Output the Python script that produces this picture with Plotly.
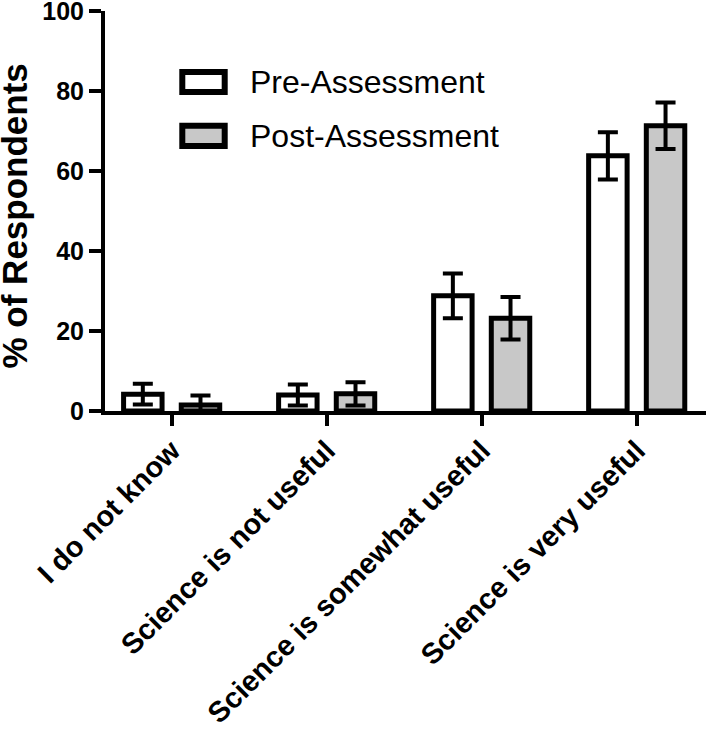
import plotly.graph_objects as go

categories = ["I do not know", "Science is not useful", "Science is somewhat useful", "Science is very useful"]
series_names = ["Pre-Assessment", "Post-Assessment"]
pre_values = [4.2, 4.0, 28.8, 63.8]
pre_errors = [2.6, 2.6, 5.6, 5.9]
post_values = [1.5, 4.3, 23.2, 71.3]
post_errors = [2.4, 2.9, 5.3, 5.8]
y_ticks = [0, 20, 40, 60, 80, 100]
y_title = "% of Respondents"

FONT = "Liberation Sans, Arial, sans-serif"
fills = ["#ffffff", "#c8c8c8"]

fig = go.Figure()
for name, vals, errs, fill in zip(series_names, [pre_values, post_values], [pre_errors, post_errors], fills):
    fig.add_trace(go.Bar(
        x=categories, y=vals, name=name,
        marker=dict(color=fill, line=dict(color="black", width=5)),
        error_y=dict(type="data", array=errs, visible=True, color="black", thickness=4, width=10),
        showlegend=False,
    ))

L, R, T, B = 105, 0, 11, 318
W, H = 706, 729
pw, ph = W - L - R, H - T - B

def px_x(p):
    return (p - L) / pw

def px_y(p):
    return (H - B - p) / ph

# legend drawn as shapes + text
legend_rows = [(72, 92), (125.7, 146)]
for (ya, yb), fill, name in zip(legend_rows, fills, series_names):
    fig.add_shape(type="rect", xref="paper", yref="paper",
                  x0=px_x(182.3), x1=px_x(224.7), y0=px_y(yb), y1=px_y(ya),
                  line=dict(color="black", width=6), fillcolor=fill)
    fig.add_annotation(xref="paper", yref="paper", x=px_x(248), y=px_y((ya + yb) / 2),
                       text=name, showarrow=False, xanchor="left", yanchor="middle",
                       font=dict(family=FONT, size=32, color="black"))

# y-axis title as rotated annotation (placed at the far left edge)
fig.add_annotation(xref="paper", yref="paper", x=px_x(14.5), y=px_y(216),
                   text=y_title, textangle=-90, showarrow=False,
                   xanchor="center", yanchor="middle",
                   font=dict(family=FONT, size=35, color="black", weight="bold"))

fig.update_layout(
    width=W, height=H,
    margin=dict(l=L, r=R, t=T, b=B, pad=0, autoexpand=False),
    plot_bgcolor="white", paper_bgcolor="white",
    barmode="group", bargap=0.256, bargroupgap=0.333,
    font=dict(family=FONT, color="black"),
    xaxis=dict(
        type="category", range=[-0.43, 3.447], automargin=False,
        showline=True, linecolor="black", linewidth=4,
        ticks="outside", ticklen=11, tickwidth=4, tickcolor="black",
        tickangle=-45, showgrid=False, zeroline=False,
        ticklabelstandoff=-4, ticklabeloverflow="allow",
        tickfont=dict(family=FONT, size=29, color="black", weight="bold"),
    ),
    yaxis=dict(
        range=[0, 100], tickvals=y_ticks, automargin=False,
        showline=True, linecolor="black", linewidth=4,
        ticks="outside", ticklen=12, tickwidth=4, tickcolor="black",
        showgrid=False, zeroline=False, ticklabeloverflow="allow",
        tickfont=dict(family=FONT, size=25, color="black", weight="bold"),
    ),
)

fig.write_html("out.html", config={"displayModeBar": False},
               post_script="document.body.style.margin='0';")
